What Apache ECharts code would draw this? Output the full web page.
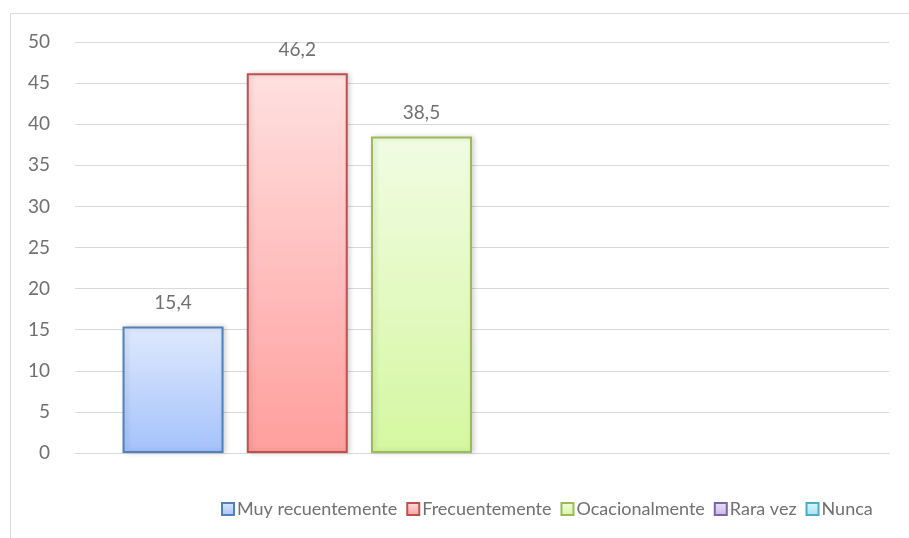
<!DOCTYPE html>
<html>
<head>
<meta charset="utf-8">
<script src="https://cdn.jsdelivr.net/npm/echarts@6/dist/echarts.min.js"></script>
<style>
  html, body { margin: 0; padding: 0; background: #fff; }
  #chart { width: 909px; height: 538px; }
</style>
</head>
<body>
<div id="chart"></div>
<script>
// data
const categories = ['']
const seriesNames = ['Muy recuentemente', 'Frecuentemente', 'Ocacionalmente', 'Rara vez', 'Nunca']
const muyRecuentemente = [15.4]
const frecuentemente = [46.2]
const ocacionalmente = [38.5]
const raraVez = [0]
const nunca = [0]
const seriesValues = [muyRecuentemente, frecuentemente, ocacionalmente, raraVez, nunca]

// border colour, gradient top, gradient bottom
const palette = [
  ['#4f81bd', '#dfe9fd', '#a4c2fb'],
  ['#c0504d', '#ffe0e0', '#ff9f9d'],
  ['#9bbb59', '#f1fce3', '#d5f7a0'],
  ['#8064a2', '#ebe3f7', '#c9b6e6'],
  ['#4bacc6', '#e0f5fb', '#a6e2f2']
]

const textColor = '#707070'
const font = 'Lato'
const fmt = v => v.toFixed(1).replace('.', ',')

const chart = echarts.init(document.getElementById('chart'))

const series = seriesNames.map((name, i) => ({
  name: name,
  type: 'bar',
  xAxisIndex: 1,
  yAxisIndex: 1,
  // zero values draw nothing, like the original
  data: seriesValues[i].map(v => v ? v : { value: v, itemStyle: { opacity: 0 } }),
  barWidth: 101,
  barGap: '23%',
  itemStyle: {
    color: new echarts.graphic.LinearGradient(0, 0, 0, 1, [
      { offset: 0, color: palette[i][1] },
      { offset: 1, color: palette[i][2] }
    ]),
    borderColor: palette[i][0],
    borderWidth: 2,
    shadowColor: 'rgba(0,0,0,0.16)',
    shadowBlur: 5,
    shadowOffsetX: 2,
    shadowOffsetY: 0
  },
  label: {
    show: true,
    position: 'top',
    distance: 14,
    color: textColor,
    fontSize: 19,
    fontFamily: font,
    formatter: p => (p.value ? fmt(p.value) : '')
  }
}))

const option = {
  animation: false,
  backgroundColor: '#fff',
  graphic: [{
    type: 'rect',
    shape: { x: 10.5, y: 13.5, width: 1200, height: 1000 },
    style: { fill: 'none', stroke: '#d9d9d9', lineWidth: 1 },
    silent: true
  }],
  legend: {
    data: seriesNames,
    left: 216,
    top: 495,
    icon: 'rect',
    itemWidth: 12,
    itemHeight: 12,
    itemGap: 9,
    textStyle: {
      color: textColor,
      fontSize: 18,
      fontFamily: font,
      padding: [0, 0, 0, -2]
    }
  },
  grid: [
    { left: 75, right: 20, top: 42, bottom: 85 },
    { left: 75, right: 141, top: 42, bottom: 85 }
  ],
  xAxis: [
    {
      type: 'category',
      gridIndex: 0,
      data: categories,
      axisLine: { show: true, lineStyle: { color: '#d9d9d9' } },
      axisTick: { show: false },
      axisLabel: { show: false }
    },
    {
      type: 'category',
      gridIndex: 1,
      data: categories,
      show: false
    }
  ],
  yAxis: [
    {
      type: 'value',
      gridIndex: 0,
      min: 0,
      max: 50,
      interval: 5,
      axisLine: { show: false },
      axisTick: { show: false },
      axisLabel: {
        color: textColor,
        fontSize: 19,
        fontFamily: font,
        margin: 25
      },
      splitLine: { lineStyle: { color: '#d9d9d9' } }
    },
    {
      type: 'value',
      gridIndex: 1,
      min: 0,
      max: 50,
      interval: 5,
      show: false
    }
  ],
  series: series
}

chart.setOption(option)
</script>
</body>
</html>
